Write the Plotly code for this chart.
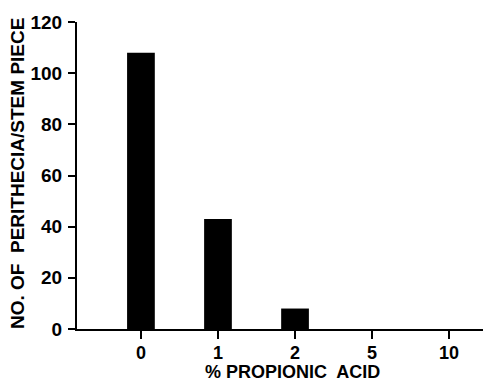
import plotly.graph_objects as go

categories = ["0", "1", "2", "5", "10"]
perithecia = [108, 43, 8, 0, 0]
y_ticks = [0, 20, 40, 60, 80, 100, 120]

xpos = list(range(len(categories)))
FONT = "Liberation Sans"

fig = go.Figure(go.Bar(
    x=xpos, y=perithecia, width=0.36,
    marker=dict(color="black", line=dict(width=0)),
))

fig.update_layout(
    width=483, height=385,
    margin=dict(l=77, r=0, t=22, b=56),
    paper_bgcolor="white", plot_bgcolor="white",
    showlegend=False,
    font=dict(family=FONT, color="black", size=18),
)
fig.update_xaxes(
    range=[-0.83, 4.44], tickvals=xpos, ticktext=categories,
    showline=True, linecolor="black", linewidth=2,
    ticks="outside", ticklen=8, tickwidth=2, tickcolor="black",
    showgrid=False, zeroline=False, ticklabelstandoff=-2,
    tickfont=dict(size=18, family=FONT, weight="bold"),
)
fig.update_yaxes(
    range=[0, 120], tickvals=y_ticks, ticktext=[str(v) for v in y_ticks],
    showline=True, linecolor="black", linewidth=2,
    ticks="outside", ticklen=7, tickwidth=2, tickcolor="black",
    showgrid=False, zeroline=False, ticklabelstandoff=2,
    tickfont=dict(size=19, family=FONT, weight="bold"),
)
fig.add_annotation(
    text="% PROPIONIC  ACID", xref="paper", yref="paper",
    x=(292 - 77) / (483 - 77), y=-(384 - 329) / (329 - 22),
    showarrow=False, xanchor="center", yanchor="bottom",
    font=dict(size=18, family=FONT, weight="bold"),
)
fig.add_annotation(
    text="NO. OF  PERITHECIA/STEM PIECE", xref="paper", yref="paper",
    x=-(77 - 17) / (483 - 77), y=(329 - 174) / (329 - 22),
    showarrow=False, xanchor="center", yanchor="middle", textangle=-90,
    font=dict(size=19, family=FONT, weight="bold"),
)

fig.write_html("out.html")
